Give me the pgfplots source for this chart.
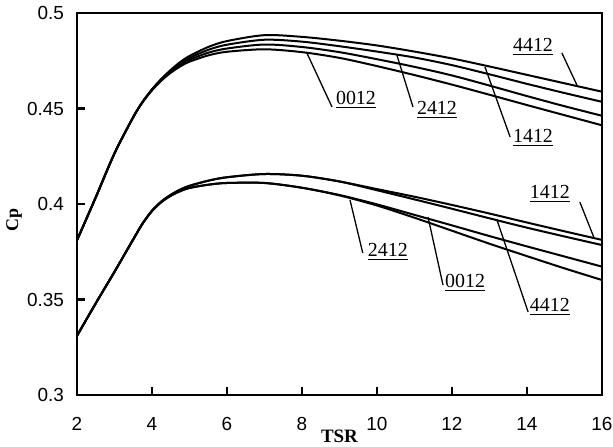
\documentclass[border=0pt]{standalone}
\usepackage{fontspec}
\setmainfont{Liberation Serif}
\setsansfont{Liberation Sans}
\usepackage{pgfplots}
\pgfplotsset{compat=1.18}
\usetikzlibrary{calc}
\pgfplotsset{curve/.style={black, solid, line width=1bp, smooth, mark=none},
  leader/.style={black, solid, line width=0.65bp, sharp plot, mark=none}}

\begin{document}
\begin{tikzpicture}
\begin{axis}[
name=ax,
scale only axis,
width=262.5bp, height=191bp,
xmin=2, xmax=16, ymin=0.3, ymax=0.5,
xtick={2,4,6,8,10,12,14,16},
xticklabels={2,4,6,8,10,12,14,16},
ytick={0.3,0.35,0.4,0.45,0.5},
yticklabels={0.3,0.35,0.4,0.45,0.5},
xtick align=inside, ytick align=inside,
xtick pos=bottom, ytick pos=left,
major tick length=4bp,
xtick style={draw=black, line width=1.3bp},
ytick style={draw=black, line width=1.3bp},
axis line style={line width=0.6bp},
/pgf/number format/assume math mode=true,
ticklabel style={font=\sffamily\fontsize{9.5}{11}\selectfont},
yticklabel style={xshift=-3bp},
xticklabel style={yshift=-7.5bp},
xlabel={\textbf{TSR}},
xlabel style={at={(axis description cs:0.5,0)}, anchor=center, yshift=-20.5bp, font=\fontsize{9.5}{11}\selectfont},
ylabel={\textbf{Cp}},
ylabel style={at={(axis description cs:0,0.458)}, anchor=center, yshift=31.5bp, font=\fontsize{9}{10}\selectfont},
]
% upper group
\addplot[curve] table {
2 0.381
2.5 0.4035
3 0.4265
3.5 0.4455
3.75 0.4535
4 0.4600
4.25 0.4655
4.5 0.4702
4.75 0.4743
5 0.4775
5.5 0.4822
6 0.4853
7 0.4884
8 0.4875
9 0.4855
10 0.4830
11 0.4798
12 0.4762
13 0.4720
14 0.4676
15 0.4632
16 0.4588
};
\addplot[curve] table {
2 0.381
2.5 0.4035
3 0.4265
3.5 0.4455
3.75 0.4535
4 0.4600
4.25 0.4653
4.5 0.4698
4.75 0.4735
5 0.4765
5.5 0.4807
6 0.4834
7 0.4860
8 0.4850
9 0.4826
10 0.4798
11 0.4767
12 0.4727
13 0.4679
14 0.4629
15 0.4581
16 0.4535
};
\addplot[curve] table {
2 0.381
2.5 0.4035
3 0.4265
3.5 0.4455
3.75 0.4535
4 0.4598
4.25 0.4650
4.5 0.4693
4.75 0.4728
5 0.4755
5.5 0.4792
6 0.4814
7 0.4835
8 0.4822
9 0.4795
10 0.4758
11 0.4718
12 0.4673
13 0.4620
14 0.4565
15 0.4512
16 0.4462
};
\addplot[curve] table {
2 0.381
2.5 0.4035
3 0.4265
3.5 0.4455
3.75 0.4533
4 0.4595
4.25 0.4646
4.5 0.4687
4.75 0.4720
5 0.4745
5.5 0.4778
6 0.4797
7 0.4810
8 0.4795
9 0.4765
10 0.4722
11 0.4675
12 0.4625
13 0.4572
14 0.4518
15 0.4465
16 0.4412
};
% lower group
\addplot[curve] table {
2 0.331
2.5 0.348
3 0.3645
3.5 0.3815
3.75 0.3898
4 0.3965
4.25 0.4013
4.5 0.4048
4.75 0.4075
5 0.4095
5.5 0.4122
6 0.4140
7 0.4157
8 0.4148
9 0.4118
10 0.4078
11 0.4038
12 0.3995
13 0.3950
14 0.3903
15 0.3857
16 0.3812
};
\addplot[curve] table {
2 0.331
2.5 0.348
3 0.3645
3.5 0.3815
3.75 0.3898
4 0.3965
4.25 0.4013
4.5 0.4048
4.75 0.4075
5 0.4095
5.5 0.4122
6 0.4140
7 0.4157
8 0.4148
9 0.4118
10 0.4072
11 0.4024
12 0.3975
13 0.3925
14 0.3876
15 0.3830
16 0.3785
};
\addplot[curve] table {
2 0.331
2.5 0.348
3 0.3645
3.5 0.3815
3.75 0.3898
4 0.3963
4.25 0.4010
4.5 0.4043
4.75 0.4067
5 0.4084
5.5 0.4101
6 0.4110
7 0.4110
8 0.4085
9 0.4047
10 0.3998
11 0.3943
12 0.3888
13 0.3832
14 0.3778
15 0.3725
16 0.3672
};
\addplot[curve] table {
2 0.331
2.5 0.348
3 0.3645
3.5 0.3815
3.75 0.3898
4 0.3963
4.25 0.4010
4.5 0.4043
4.75 0.4067
5 0.4084
5.5 0.4101
6 0.4110
7 0.4110
8 0.4085
9 0.4045
10 0.3992
11 0.3928
12 0.3860
13 0.3792
14 0.3727
15 0.3663
16 0.3602
};
% leader lines
\addplot[leader] coordinates {(14.93,0.4791) (15.33,0.4623)};
\addplot[leader] coordinates {(8.13,0.4791) (8.80,0.4508)};
\addplot[leader] coordinates {(10.53,0.4780) (10.96,0.4508)};
\addplot[leader] coordinates {(12.88,0.4717) (13.55,0.4351)};
\addplot[leader] coordinates {(15.41,0.4010) (15.79,0.3822)};
\addplot[leader] coordinates {(9.28,0.4021) (9.62,0.3744)};
\addplot[leader] coordinates {(11.36,0.3932) (11.76,0.3576)};
\addplot[leader] coordinates {(13.20,0.3916) (14.03,0.3435)};
% labels
\begin{scope}[every node/.style={font=\fontsize{10}{12}\selectfont, inner sep=0pt}]
\node at (axis cs:14.16,0.4822) {\underline{4412}};
\node at (axis cs:9.44,0.4545) {\underline{0012}};
\node at (axis cs:11.60,0.4492) {\underline{2412}};
\node at (axis cs:14.16,0.4346) {\underline{1412}};
\node at (axis cs:14.61,0.4052) {\underline{1412}};
\node at (axis cs:10.29,0.3749) {\underline{2412}};
\node at (axis cs:12.35,0.3586) {\underline{0012}};
\node at (axis cs:14.61,0.3461) {\underline{4412}};
\end{scope}
% heavy left and bottom axis lines
\draw[line width=1.5bp] (rel axis cs:0,1) -- (rel axis cs:0,0) -- (rel axis cs:1,0);
\end{axis}
\pgfresetboundingbox
\path[use as bounding box] ($(ax.south west)+(-38.5bp,-26bp)$) rectangle ($(ax.north east)+(5.5bp,6.5bp)$);
\end{tikzpicture}
\end{document}
